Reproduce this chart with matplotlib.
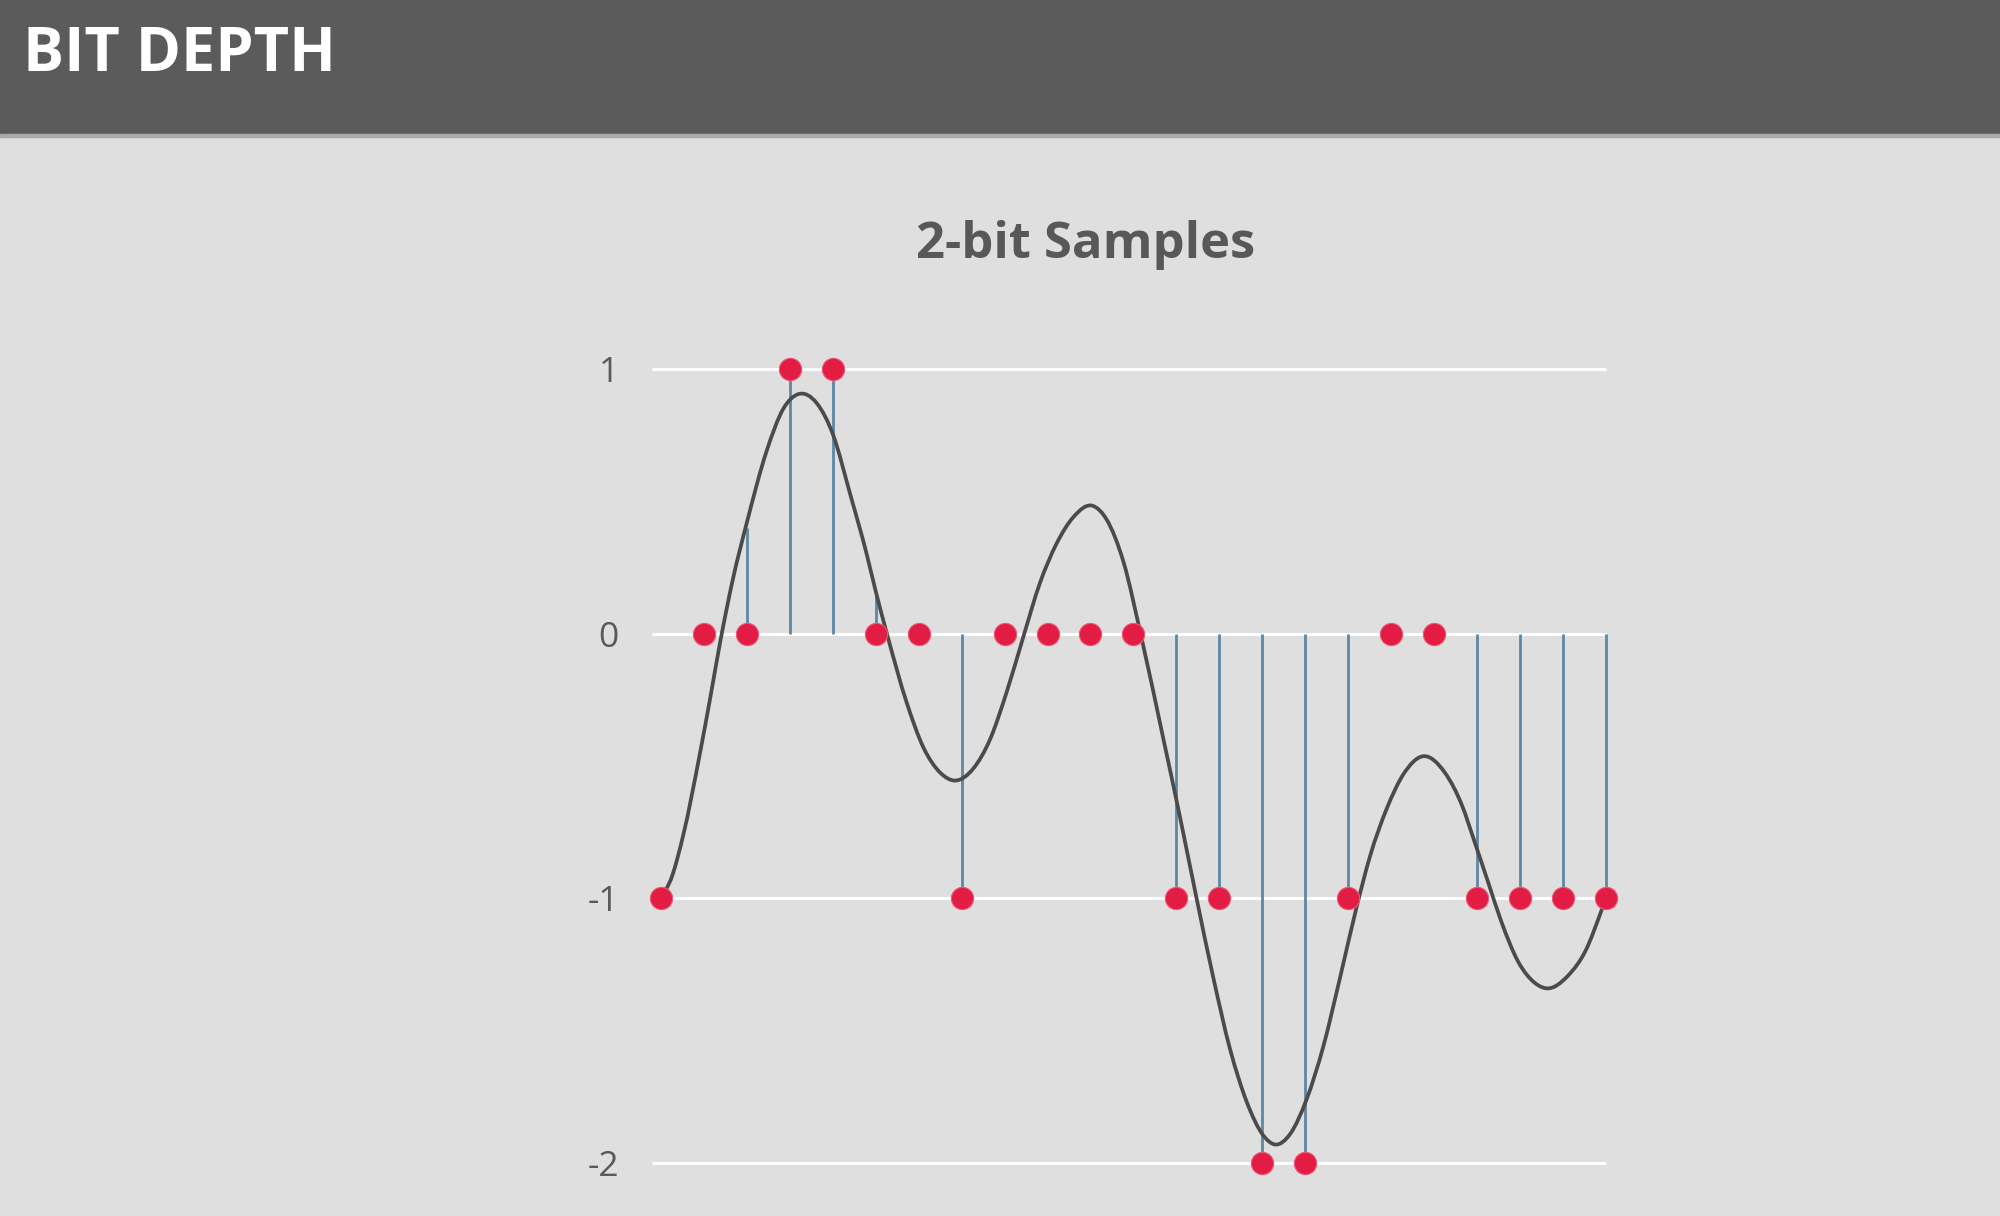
import matplotlib.pyplot as plt
from matplotlib.patches import Rectangle, PathPatch
from matplotlib.path import Path
import numpy as np

plt.rcParams['font.family'] = ['Open Sans', 'DejaVu Sans']

# y levels of a 2-bit signal
levels = [1, 0, -1, -2]
level_labels = ['1', '0', '-1', '-2']

# sample positions and their quantized values
sample_idx = list(range(23))
quantized = [-1, 0, 0, 1, 1, 0, 0, -1, 0, 0, 0, 0,
             -1, -1, -2, -2, -1, 0, 0, -1, -1, -1, -1]
# where the blue stems end (nan = no stem drawn)
stem_top = [np.nan, np.nan, 0.40, 1, 1, 0.15, np.nan, -1, np.nan, np.nan, np.nan, np.nan,
            -1, -1, -2, -2, -1, np.nan, np.nan, -1, -1, -1, -1]

# analog curve (x in sample units)
curve_t = [0.00, 0.25, 0.52, 0.91, 1.15, 1.38, 1.68, 2.00, 2.46, 2.85, 3.20,
           3.63, 4.01, 4.40, 4.79, 5.00, 5.26, 5.72, 6.11, 6.50, 6.85, 7.27,
           7.66, 8.05, 8.44, 8.82, 9.21, 9.60, 10.05, 10.38, 10.77, 11.18,
           11.70, 12.08, 12.47, 12.86, 13.25, 13.64, 14.02, 14.30, 14.65,
           15.03, 15.42, 15.81, 16.20, 16.51, 16.90, 17.29, 17.75, 18.25,
           18.64, 18.95, 19.26, 19.57, 19.96, 20.35, 20.62, 21.13, 21.52,
           21.91, 22.00]
curve_v = [-1.00, -0.92, -0.76, -0.45, -0.24, -0.03, 0.21, 0.42, 0.69, 0.85, 0.905,
           0.87, 0.75, 0.53, 0.30, 0.16, 0.00, -0.26, -0.43, -0.525, -0.555, -0.51,
           -0.40, -0.22, -0.01, 0.19, 0.34, 0.44, 0.483, 0.43, 0.27, -0.01,
           -0.40, -0.69, -1.00, -1.30, -1.57, -1.77, -1.895, -1.93, -1.89,
           -1.76, -1.56, -1.30, -1.03, -0.84, -0.66, -0.53, -0.463, -0.525,
           -0.645, -0.79, -0.94, -1.09, -1.24, -1.32, -1.34, -1.29, -1.20,
           -1.04, -1.00]


def smooth_path(xs, ys):
    # cubic hermite through the read points, drawn as bezier segments
    x = np.asarray(xs, float)
    y = np.asarray(ys, float)
    h = np.diff(x)
    d = np.diff(y) / h
    m = np.empty_like(y)
    m[0], m[-1] = d[0], d[-1]
    m[1:-1] = (d[:-1] * h[1:] + d[1:] * h[:-1]) / (h[:-1] + h[1:])
    verts = [(x[0], y[0])]
    codes = [Path.MOVETO]
    for i in range(len(x) - 1):
        verts += [(x[i] + h[i] / 3, y[i] + m[i] * h[i] / 3),
                  (x[i + 1] - h[i] / 3, y[i + 1] - m[i + 1] * h[i] / 3),
                  (x[i + 1], y[i + 1])]
        codes += [Path.CURVE4] * 3
    return Path(verts, codes)


W, H = 2000, 1216
fig = plt.figure(figsize=(W / 100, H / 100), dpi=100)
fig.patch.set_facecolor('#dfdfdf')

# header band
fig.patches.append(Rectangle((0, 1 - 134 / H), 1, 134 / H, transform=fig.transFigure,
                             color='#5b5b5b', zorder=0))
fig.patches.append(Rectangle((0, 1 - 137 / H), 1, 3 / H, transform=fig.transFigure,
                             color='#a9a9a9', zorder=0))
fig.text(23 / W, 1 - 71 / H, 'BIT DEPTH', color='white', fontsize=44,
         fontweight='bold', ha='left', va='baseline')
fig.text(1086 / W, 1 - 258 / H, '2-bit Samples', color='#585858', fontsize=36.5,
         fontweight='bold', ha='center', va='baseline')

ax = fig.add_axes([0.31975, 0.0109, 0.49394, 0.71834])
ax.set_facecolor('none')
ax.set_xlim(-0.5, 22.5)
ax.set_ylim(-2.15, 1.15)

ax.hlines(levels, -0.21, 22, colors='white', lw=2.2, zorder=1)

st = np.array(stem_top, dtype=float)
xs = np.array(sample_idx)
has = ~np.isnan(st)
ax.vlines(xs[has], 0, st[has], colors='#5e87a4', lw=2.0, zorder=2)

ax.add_patch(PathPatch(smooth_path(curve_t, curve_v), facecolor='none',
                       edgecolor='#4b4b4b', lw=2.7, zorder=3, capstyle='round'))
ax.plot(sample_idx, quantized, 'o', ms=16, color='#e31c43', mec='#ef5676', mew=0.8,
        zorder=4, clip_on=False)

ax.set_yticks(levels, level_labels)
ax.set_xticks([])
ax.tick_params(axis='y', length=0, pad=15, labelsize=25.5, labelcolor='#5a5a5a')
for s in ax.spines.values():
    s.set_visible(False)

fig.savefig('out.png', dpi=100, facecolor=fig.get_facecolor())
